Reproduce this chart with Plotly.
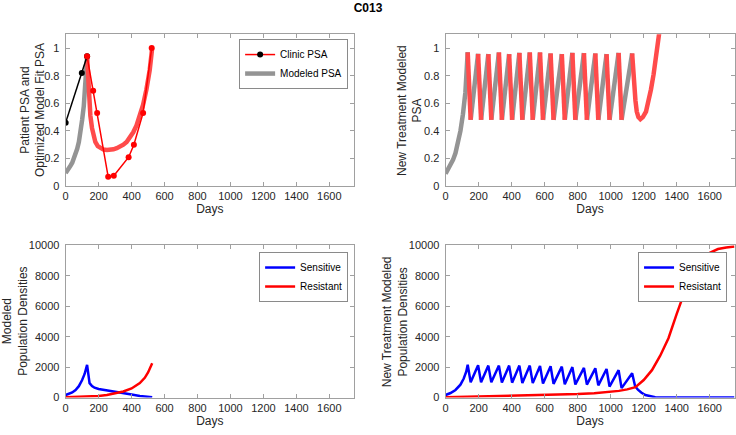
import plotly.graph_objects as go

# ---------------- data ----------------
# Top-left: clinic PSA
clinic_pre_days = [0, 98, 130]
clinic_pre_psa = [0.46, 0.82, 0.94]
clinic_tx_days = [130, 167, 191, 258, 292, 382, 414, 470, 522]
clinic_tx_psa = [0.94, 0.69, 0.53, 0.068, 0.075, 0.21, 0.30, 0.53, 1.0]

# Top-left: modeled PSA fit
fit_pre_days = [0, 10, 20, 30, 40, 50, 60, 70, 80, 90, 100, 110, 120, 130]
fit_pre_psa = [0.095, 0.11, 0.13, 0.15, 0.17, 0.20, 0.23, 0.27, 0.32, 0.39, 0.48, 0.58, 0.72, 0.94]
fit_tx_days = [130, 135, 140, 145, 150, 160, 170, 180, 195, 210, 230, 250, 270, 290, 310, 330,
               350, 370, 390, 410, 430, 450, 470, 490, 510, 525]
fit_tx_psa = [0.94, 0.80, 0.68, 0.58, 0.51, 0.42, 0.36, 0.32, 0.29, 0.275, 0.265, 0.262, 0.263,
              0.267, 0.275, 0.285, 0.30, 0.32, 0.35, 0.39, 0.44, 0.51, 0.59, 0.70, 0.84, 1.0]

# Top-right: new treatment modeled PSA
newtx_pre_days = [0, 15, 30, 45, 60, 75, 90, 105, 120, 134]
newtx_pre_psa = [0.09, 0.12, 0.15, 0.19, 0.24, 0.31, 0.40, 0.52, 0.68, 0.97]
newtx_peak_days = [134, 197, 259, 323, 385, 447, 510, 572, 636, 704, 768, 838, 907, 975, 1048, 1130]
newtx_peak_psa = [0.968, 0.958, 0.956, 0.968, 0.956, 0.965, 0.968, 0.968, 0.961, 0.956, 0.965,
                  0.963, 0.961, 0.956, 0.965, 0.961]
newtx_trough_days = [152, 215, 277, 341, 403, 465, 528, 590, 654, 722, 786, 856, 925, 993, 1066]
newtx_trough_psa = [0.48] * 15
newtx_final_days = [1130, 1137, 1144, 1150, 1158, 1168, 1180, 1195, 1214, 1230, 1244, 1260, 1274, 1294, 1310]
newtx_final_psa = [0.961, 0.82, 0.70, 0.62, 0.54, 0.50, 0.485, 0.50, 0.54, 0.61, 0.70, 0.81, 0.94, 1.10, 1.25]

# Bottom-left: modeled population densities
pop_days = [0, 20, 40, 60, 80, 100, 115, 130, 137, 145, 160, 175, 200, 250, 300, 350, 400, 450, 500, 525]
pop_sensitive = [170, 240, 340, 500, 750, 1150, 1550, 2150, 1400, 950, 760, 650, 560, 460, 380, 300,
                 200, 110, 40, 15]
res_days = [0, 100, 200, 250, 300, 350, 400, 450, 480, 500, 525]
pop_resistant = [30, 60, 110, 170, 270, 400, 600, 950, 1300, 1650, 2250]

# Bottom-right: new treatment population densities
nt_sens_pre_days = [0, 30, 60, 90, 110, 125, 134]
nt_sens_pre = [170, 300, 500, 850, 1250, 1700, 2150]
nt_sens_peak = [2150, 2120, 2100, 2100, 2100, 2100, 2100, 2080, 2060, 2030, 2000, 1950, 1920, 1880, 1800, 1600]
nt_sens_trough = [1000, 1000, 1000, 990, 980, 960, 950, 930, 900, 880, 860, 850, 800, 720, 620]
nt_sens_tail_days = [1148, 1165, 1185, 1210, 1240, 1270, 1300, 1400, 1500, 1600, 1750]
nt_sens_tail = [750, 520, 330, 170, 70, 20, 5, 0, 0, 0, 0]
nt_res_days = [0, 200, 400, 600, 800, 900, 1000, 1050, 1100, 1150, 1200, 1250, 1300, 1350, 1400,
               1450, 1500, 1550, 1600, 1650, 1700, 1750]
nt_res = [30, 70, 110, 160, 230, 290, 380, 440, 540, 680, 1150, 1800, 2750, 3900, 5500, 7000, 8200,
          9100, 9500, 9750, 9850, 9920]

y_titles = ["Patient PSA and<br>Optimized Model Fit PSA", "New Treatment Modeled<br>PSA",
            "Modeled<br>Population Densities", "New Treatment Modeled<br>Population Densities"]

# ---------------- styles ----------------
GRAY = "rgb(148,148,148)"
LRED = "rgb(255,75,75)"
FONT = "Liberation Sans, Arial, sans-serif"
TXT = "#262626"

fig = go.Figure()

# ---- top-left ----
fig.add_trace(go.Scatter(x=fit_pre_days, y=fit_pre_psa, mode="lines", line=dict(color=GRAY, width=4.5),
                         showlegend=False, xaxis="x", yaxis="y"))
fig.add_trace(go.Scatter(x=fit_tx_days, y=fit_tx_psa, mode="lines", line=dict(color=LRED, width=4.5),
                         showlegend=False, xaxis="x", yaxis="y"))
fig.add_trace(go.Scatter(x=clinic_pre_days, y=clinic_pre_psa, mode="lines+markers",
                         line=dict(color="black", width=1.5), marker=dict(color="black", size=6),
                         showlegend=False, xaxis="x", yaxis="y"))
fig.add_trace(go.Scatter(x=clinic_tx_days, y=clinic_tx_psa, mode="lines+markers",
                         line=dict(color="red", width=1.5), marker=dict(color="red", size=6),
                         showlegend=False, xaxis="x", yaxis="y"))
# legend entries
fig.add_trace(go.Scatter(x=[None], y=[None], mode="lines+markers", name="Clinic PSA",
                         line=dict(color="red", width=1.5), marker=dict(color="black", size=6),
                         legend="legend", xaxis="x", yaxis="y"))
fig.add_trace(go.Scatter(x=[None], y=[None], mode="lines", name="Modeled PSA",
                         line=dict(color=GRAY, width=4.5), legend="legend", xaxis="x", yaxis="y"))

# ---- top-right ----
gx, gy = list(newtx_pre_days), list(newtx_pre_psa)
rx, ry = [], []
for i in range(len(newtx_trough_days)):
    rx += [newtx_peak_days[i], newtx_trough_days[i], None]
    ry += [newtx_peak_psa[i], newtx_trough_psa[i], None]
    gx += [None, newtx_trough_days[i], newtx_peak_days[i + 1]]
    gy += [None, newtx_trough_psa[i], newtx_peak_psa[i + 1]]
rx += newtx_final_days
ry += newtx_final_psa
fig.add_trace(go.Scatter(x=gx, y=gy, mode="lines", line=dict(color=GRAY, width=4.5),
                         showlegend=False, xaxis="x2", yaxis="y2"))
fig.add_trace(go.Scatter(x=rx, y=ry, mode="lines", line=dict(color=LRED, width=4.5),
                         showlegend=False, xaxis="x2", yaxis="y2"))

# ---- bottom-left ----
fig.add_trace(go.Scatter(x=pop_days, y=pop_sensitive, mode="lines", name="Sensitive",
                         line=dict(color="blue", width=2.5), legend="legend2", xaxis="x3", yaxis="y3"))
fig.add_trace(go.Scatter(x=res_days, y=pop_resistant, mode="lines", name="Resistant",
                         line=dict(color="red", width=2.5), legend="legend2", xaxis="x3", yaxis="y3"))

# ---- bottom-right ----
bx, by = list(nt_sens_pre_days), list(nt_sens_pre)
for i in range(len(newtx_trough_days)):
    bx += [newtx_trough_days[i], newtx_peak_days[i + 1]]
    by += [nt_sens_trough[i], nt_sens_peak[i + 1]]
bx += nt_sens_tail_days
by += nt_sens_tail
fig.add_trace(go.Scatter(x=bx, y=by, mode="lines", name="Sensitive",
                         line=dict(color="blue", width=2.5), legend="legend3", xaxis="x4", yaxis="y4"))
fig.add_trace(go.Scatter(x=nt_res_days, y=nt_res, mode="lines", name="Resistant",
                         line=dict(color="red", width=2.5), legend="legend3", xaxis="x4", yaxis="y4"))

W, H = 736, 435


def dx(a, b):
    return [a / W, b / W]


def dy(top, bottom):
    return [1 - bottom / H, 1 - top / H]


axis_common = dict(showline=True, linecolor="#a0a0a0", linewidth=1, mirror="allticks", ticks="inside",
                   ticklen=4, tickcolor="#a0a0a0", showgrid=False, zeroline=False,
                   tickfont=dict(family=FONT, size=11, color=TXT))
xcommon = dict(axis_common, range=[0, 1750], tickvals=[0, 200, 400, 600, 800, 1000, 1200, 1400, 1600],
               title=dict(text="Days", font=dict(family=FONT, size=12, color=TXT), standoff=2))
ytop = dict(axis_common, range=[0, 1.1], tickvals=[0, 0.2, 0.4, 0.6, 0.8, 1.0],
            ticktext=["0", "0.2", "0.4", "0.6", "0.8", "1"], ticklabelstandoff=3)
ybot = dict(axis_common, range=[0, 10000], tickvals=[0, 2000, 4000, 6000, 8000, 10000], tickformat="d",
            ticklabelstandoff=3)
ytitle_font = dict(family=FONT, size=12, color=TXT)

legend_common = dict(bgcolor="white", bordercolor="#8a8a8a", borderwidth=1,
                     font=dict(family=FONT, size=10, color="black"), xanchor="right", yanchor="top",
                     itemwidth=30, tracegroupgap=0)

top_dom = dy(29, 185.3)
bot_dom = dy(246, 402.7)
title_pos = [(30, top_dom), (409, top_dom), (12.5, bot_dom), (395, bot_dom)]
annotations = []
for txt, (px, dom) in zip(y_titles, title_pos):
    annotations.append(dict(text=txt, x=px / W, y=(dom[0] + dom[1]) / 2, xref="paper", yref="paper",
                            xanchor="center", yanchor="middle", textangle=-90, showarrow=False,
                            font=ytitle_font))

fig.update_layout(
    width=W, height=H, autosize=False, margin=dict(l=0, r=0, t=0, b=0),
    plot_bgcolor="white", paper_bgcolor="white",
    title=dict(text="<b>C013</b>", x=0.5, xanchor="center", y=1 - 8 / H, yanchor="middle",
               font=dict(family=FONT, size=12, color="black")),
    xaxis=dict(xcommon, domain=dx(63, 353), anchor="y"),
    yaxis=dict(ytop, domain=top_dom, anchor="x"),
    xaxis2=dict(xcommon, domain=dx(445, 735.5), anchor="y2"),
    yaxis2=dict(ytop, domain=top_dom, anchor="x2"),
    xaxis3=dict(xcommon, domain=dx(63, 353), anchor="y3"),
    yaxis3=dict(ybot, domain=bot_dom, anchor="x3"),
    xaxis4=dict(xcommon, domain=dx(445, 735.5), anchor="y4"),
    yaxis4=dict(ybot, domain=bot_dom, anchor="x4"),
    annotations=annotations,
    legend=dict(legend_common, x=347 / W, y=1 - 34 / H),
    legend2=dict(legend_common, x=347 / W, y=1 - 253 / H),
    legend3=dict(legend_common, x=728 / W, y=1 - 253 / H),
)

fig.write_html("out.html", config={"displayModeBar": False},
               post_script="document.body.style.margin='0';")
